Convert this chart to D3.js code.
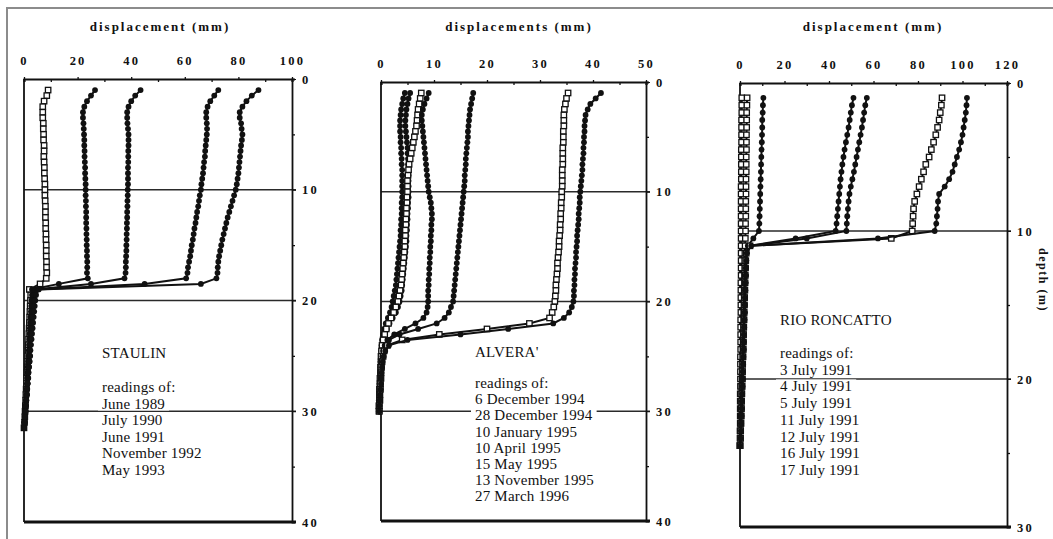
<!DOCTYPE html>
<html>
<head>
<meta charset="utf-8">
<script src="https://cdn.jsdelivr.net/npm/d3@7"></script>
<style>
  body { margin: 0; background: #fff; }
  svg text { font-family: "Liberation Serif", "Times New Roman", serif; fill: #111; }
  .axt { font-weight: bold; font-size: 12.5px; letter-spacing: 2.2px; }
  .leg { font-size: 15px; letter-spacing: 0.2px; }
</style>
</head>
<body>
<svg id="chart" width="1053" height="539"></svg>
<script>
// STAULIN - depth (m) and displacement (mm)
var staulinDepth = [1,1.5,2,2.5,3,3.5,4,4.5,5,5.5,6,6.5,7,7.5,8,8.5,9,9.5,10,10.5,11,11.5,12,12.5,13,13.5,14,14.5,15,15.5,16,16.5,17,17.5,18,18.5,19,19.5,20,20.5,21,21.5,22,22.5,23,23.5,24,24.5,25,25.5,26,26.5,27,27.5,28,28.5,29,29.5,30,30.5,31,31.5];
var staulinDates = ['June 1989', 'July 1990', 'June 1991', 'November 1992', 'May 1993'];
var staulinJun89 = [9,8.5,7.5,7, 7,7,7.2,7.2,7.3,7.3,7.5,7.5,7.4,7.5,7.6,7.6,7.7,7.8, 7.8,7.8,7.9,8,8,8,8.1,8.1,8.2,8.2,8.3,8.3,8.3,8.4,8.4,8.5,8.3,6, 2, 2.5,2.4,2.3,2.2,2.1,2,1.9,1.8,1.7,1.6,1.5,1.4,1.3,1.2,1.1,1,0.9,0.8,0.7,0.6,0.5,0.4,0.3,0.2,0];
var staulinJul90 = [26.5,25,23.5,22.5, 22,22,22.2,22.3,22.4,22.5,22.5,22.6,22.6,22.7,22.8,22.8,22.9,23, 23,23,23.1,23.1,23.2,23.2,23.2,23.3,23.3,23.4,23.4,23.5,23.5,23.6,23.6,23.5,23.8,13, 3, 3,2.8,2.7,2.6,2.4,2.3,2.2,2.1,2,1.9,1.8,1.7,1.5,1.4,1.3,1.2,1.1,1,0.9,0.8,0.6,0.5,0.3,0.2,0];
var staulinJun91 = [43.5,41.5,40,39, 38.5,38.5,38.6,38.8,39,39,39,38.9,38.9,38.9,38.8,38.8,38.8,38.8, 38.7,38.7,38.6,38.6,38.5,38.5,38.4,38.4,38.3,38.3,38.2,38.2,38.1,38,38,37.9,37.5,25, 4, 3.5,3.3,3.1,3,2.8,2.7,2.5,2.4,2.3,2.1,2,1.9,1.8,1.6,1.5,1.4,1.3,1.1,1,0.8,0.7,0.5,0.4,0.2,0];
var staulinNov92 = [72.5,71,69.5,68.5, 68,68,68.2,68.3,68.2,68,67.8,67.6,67.5,67.2,67,66.8,66.5,66.2, 66,65.6,65.3,65,64.6,64.3,64,63.6,63.3,63,62.6,62.3,62,61.6,61.2,61,60.5,45, 5, 4,3.8,3.6,3.4,3.2,3,2.9,2.7,2.5,2.4,2.2,2.1,2,1.8,1.6,1.5,1.3,1.2,1,0.8,0.7,0.5,0.4,0.2,0];
var staulinMay93 = [87.5,85,83,81.5, 80.5,80.5,81,81.2,81.5,81.3,81,80.8,80.6,80.4,80.2,80,79.7,79.4, 79,78.4,77.8,77.2,76.6,76,75.5,75,74.5,74,73.6,73.2,72.8,72.5,72.3,72.2,71.8,66, 5.5, 4.5,4.2,4,3.8,3.6,3.4,3.2,3,2.8,2.6,2.4,2.3,2.1,1.9,1.7,1.6,1.4,1.2,1.1,0.9,0.7,0.6,0.4,0.2,0];

// ALVERA
var alveraDepth = [1,1.5,2,2.5,3,3.5,4,4.5,5,5.5,6,6.5,7,7.5,8,8.5,9,9.5,10,10.5,11,11.5,12,12.5,13,13.5,14,14.5,15,15.5,16,16.5,17,17.5,18,18.5,19,19.5,20,20.5,21,21.5,22,22.5,23,23.5,24,24.5,25,25.5,26,26.5,27,27.5,28,28.5,29,29.5,30];
var alveraDates = ['6 December 1994', '28 December 1994', '10 January 1995', '10 April 1995', '15 May 1995', '13 November 1995', '27 March 1996'];
var alvera6Dec94 = [4.5,4.2,4,3.8, 3.7,3.6,3.6,3.6,3.7,3.7,3.8,3.8,3.9,3.9,4,4,4,4, 4,4,3.9,3.9,3.9,3.8,3.8,3.7,3.7,3.6,3.5,3.4,3.3,3.2,3.1,3,2.9,2.8,2.6,2.4, 2.2,2,1.7,1.3,0.9,0.6,0.4,0.2, 0.1,0,0,-0.1,-0.1,-0.2,-0.2,-0.3,-0.3,-0.3,-0.4,-0.4,-0.4];
var alvera28Dec94 = [5.5,5.2,5,4.8, 4.7,4.6,4.6,4.7,4.8,4.9,5,5,5.1,5.1,5.2,5.2,5.2,5.2, 5.2,5.2,5.1,5.1,5,5,4.9,4.9,4.8,4.8,4.7,4.6,4.5,4.4,4.3,4.2,4.1,4,3.9,3.7, 3.5,3.2,2.8,2.2,1.6,1.1,0.7,0.4, 0.2,0.1,0,0,-0.1,-0.1,-0.2,-0.2,-0.3,-0.3,-0.3,-0.4,-0.4];
var alvera10Jan95 = [7.6,7.4,7.2,7, 6.9,6.8,6.7,6.5,6.3,6.1,5.9,5.7,5.5,5.3,5.2,5.1,5,5, 5,4.9,4.9,4.8,4.8,4.7,4.7,4.6,4.6,4.5,4.5,4.4,4.3,4.2,4.1,4,3.9,3.8,3.6,3.4, 3.2,2.8,2.4,1.9,1.4,1,0.7,0.4, 0.2,0.1,0,0,-0.1,-0.1,-0.2,-0.2,-0.3,-0.3,-0.3,-0.4,-0.4];
var alvera10Apr95 = [9,8.6,8.2,7.9, 7.7,7.7,7.8,7.9,8,8.1,8.2,8.3,8.4,8.5,8.6,8.7,8.8,8.9, 9,9.2,9.4,9.5,9.6,9.6,9.5,9.5,9.4,9.4,9.3,9.3,9.2,9.2,9.1,9.1,9,9,8.9,8.9, 8.9,8.8,8.6,8,6.5,4.5,2.5,1.2, 0.7,0.4,0.3,0.2,0.1,0,0,-0.1,-0.1,-0.2,-0.2,-0.3,-0.3];
var alvera15May95 = [17.4,17.2,17,16.8, 16.7,16.6,16.5,16.4,16.4,16.3,16.2,16.1,16,16,15.9,15.8,15.8,15.7, 15.6,15.5,15.4,15.3,15.2,15.1,15,14.9,14.8,14.7,14.6,14.5,14.4,14.3,14.2,14.1,14,13.9,13.8,13.7, 13.6,13.2,12.8,12,10.5,7,3.5,1.5, 0.8,0.5,0.3,0.2,0.1,0,0,-0.1,-0.1,-0.2,-0.2,-0.3,-0.3];
var alvera13Nov95 = [35.3,35,34.8,34.6, 34.5,34.5,34.5,34.4,34.4,34.4,34.3,34.3,34.3,34.3,34.2,34.2,34.2,34.2, 34.1,34.1,34,34,33.9,33.9,33.8,33.8,33.7,33.6,33.6,33.5,33.4,33.3,33.3,33.2,33.1,33,33,32.9, 32.8,32.6,32.3,31.8,28,20,11,4, 1.2,0.6,0.4,0.2,0.1,0,0,-0.1,-0.1,-0.2,-0.2,-0.3,-0.3];
var alvera27Mar96 = [41.5,40.5,39.5,39, 38.6,38.5,38.4,38.4,38.3,38.3,38.2,38.2,38.1,38,38,37.9,37.8,37.7, 37.6,37.5,37.5,37.4,37.3,37.3,37.2,37.1,37,37,36.9,36.8,36.8,36.7,36.6,36.6,36.5,36.5,36.4,36.4, 36.3,36,35.5,34.5,32.5,24,15,5, 1.5,0.8,0.5,0.3,0.2,0.1,0,0,-0.1,-0.2,-0.2,-0.3,-0.3];

// RIO RONCATTO
var roncattoDepth = [1,1.5,2,2.5,3,3.5,4,4.5,5,5.5,6,6.5,7,7.5,8,8.5,9,9.5,10,10.5,11,11.5,12,12.5,13,13.5,14,14.5,15,15.5,16,16.5,17,17.5,18,18.5,19,19.5,20,20.5,21,21.5,22,22.5,23,23.5,24,24.5];
var roncattoDates = ['3 July 1991', '4 July 1991', '5 July 1991', '11 July 1991', '12 July 1991', '16 July 1991', '17 July 1991'];
var roncatto3Jul = [0.8,0.8,0.8,0.7,0.7,0.7,0.7,0.6,0.6,0.6,0.6,0.6,0.5,0.5,0.5,0.5,0.5,0.5, 0.5,0.5,0.5, 0.5,0.5,0.5,0.5,0.4,0.4,0.4,0.4,0.4,0.3,0.3,0.3,0.3,0.3,0.2,0.2,0.2,0.2,0.2,0.1,0.1,0.1,0.1,0.1,0,0,0];
var roncatto4Jul = [3.2,3.1,3,3,3,2.9,2.9,2.9,2.8,2.8,2.8,2.7,2.7,2.7,2.6,2.6,2.6,2.5, 2.5,2.4,2.3, 2.2,2.1,2.1,2,2,1.9,1.9,1.8,1.7,1.7,1.6,1.5,1.4,1.4,1.3,1.2,1.1,1,0.9,0.8,0.7,0.6,0.5,0.4,0.3,0.2,0];
var roncatto5Jul = [10.5,10.3,10.2,10,10,9.9,9.8,9.7,9.6,9.5,9.4,9.3,9.2,9.1,9,8.9,8.8,8.7, 8.5,6,3.5, 3,2.8,2.7,2.6,2.5,2.4,2.3,2.2,2.1,2,1.9,1.8,1.7,1.6,1.5,1.4,1.3,1.2,1.1,1,0.9,0.8,0.6,0.5,0.3,0.2,0];
var roncatto11Jul = [51,50.3,49.8,49.3,48.8,48.2,47.6,47,46.5,46,45.6,45.2,44.9,44.6,44.3,44,43.7,43.4, 43,25,4, 2.7,2.6,2.5,2.4,2.3,2.2,2.1,2,1.9,1.8,1.7,1.6,1.5,1.4,1.3,1.2,1.1,1,0.9,0.8,0.7,0.6,0.5,0.4,0.3,0.1,0];
var roncatto12Jul = [57,56.3,55.8,55.3,54.8,54.2,53.6,53,52.4,51.8,51.2,50.5,49.8,49.2,48.8,48.5,48.2,48, 47.8,30,4.5, 2.9,2.7,2.6,2.5,2.4,2.3,2.2,2.1,2,1.9,1.8,1.7,1.6,1.5,1.4,1.3,1.2,1.1,1,0.9,0.8,0.7,0.6,0.5,0.3,0.2,0];
var roncatto16Jul = [90.8,90.5,90,89.5,88.8,88,87,86,85,83.5,82.5,81.5,80.5,79.5,78.5,78,77.8,77.6, 77.4,68,4.5, 2.8,2.6,2.5,2.4,2.3,2.2,2.1,2,1.9,1.8,1.7,1.6,1.5,1.4,1.3,1.2,1.1,1,0.9,0.8,0.7,0.6,0.5,0.4,0.3,0.2,0];
var roncatto17Jul = [102,101.8,101.5,101,100.5,100,99.3,98.5,97.5,96.5,95.5,94,92,89.5,89,88.8,88.5,88.2, 87.5,62,5, 3,2.8,2.6,2.5,2.4,2.3,2.2,2.1,2,1.9,1.8,1.7,1.6,1.5,1.4,1.3,1.2,1.1,1,0.9,0.8,0.7,0.6,0.5,0.4,0.2,0];

var svg = d3.select('#chart');

// scan frame
svg.append('path')
  .attr('d', 'M7,539 V8 H1053')
  .attr('fill', 'none')
  .attr('stroke', '#8c8c8c')
  .attr('stroke-width', 2);

function drawPanel(p) {
  var x = d3.scaleLinear().domain([0, p.xMax]).range(p.xRange);
  var y = d3.scaleLinear().domain([0, p.yMax]).range(p.yRange);
  var g = svg.append('g');
  var xEnd = x(p.xMax);

  // horizontal grid lines
  g.selectAll('.grid')
    .data(p.grid)
    .enter().append('line')
    .attr('x1', x(0)).attr('x2', xEnd + 4)
    .attr('y1', d => y(d)).attr('y2', d => y(d))
    .attr('stroke', '#2a2a2a')
    .attr('stroke-width', 1.6);

  // top axis: minor ticks, then labels
  g.append('g')
    .attr('transform', 'translate(0,' + y(0) + ')')
    .call(d3.axisTop(x).tickValues(p.xMinor).tickSize(-3).tickFormat(''))
    .call(a => a.select('.domain').attr('stroke-width', 2.2).attr('stroke', '#111'))
    .call(a => a.selectAll('.tick line').attr('stroke', '#111').attr('stroke-width', 1.3));
  g.append('g')
    .attr('transform', 'translate(0,' + y(0) + ')')
    .call(d3.axisTop(x).tickValues(p.xLabels).tickSize(2).tickPadding(12))
    .call(a => a.select('.domain').remove())
    .call(a => a.selectAll('.tick line').attr('stroke', '#111').attr('stroke-width', 1.3))
    .call(a => a.selectAll('text').attr('class', 'axt').attr('font-family', null).attr('font-size', null));

  // right axis
  g.append('g')
    .attr('transform', 'translate(' + xEnd + ',0)')
    .call(d3.axisRight(y).tickValues(p.yMinor).tickSize(3).tickFormat(''))
    .call(a => a.select('.domain').attr('stroke-width', 1.8).attr('stroke', '#111'))
    .call(a => a.selectAll('.tick line').attr('stroke', '#111').attr('stroke-width', 1.3));
  g.append('g')
    .attr('transform', 'translate(' + xEnd + ',0)')
    .call(d3.axisRight(y).tickValues(p.yLabels).tickSize(4).tickPadding(6))
    .call(a => a.select('.domain').remove())
    .call(a => a.selectAll('.tick line').attr('stroke', '#111'))
    .call(a => a.selectAll('text').attr('class', 'axt').attr('font-family', null).attr('font-size', null));

  // left and bottom frame
  g.append('line')
    .attr('x1', x(0)).attr('x2', x(0))
    .attr('y1', y(0)).attr('y2', y(p.yMax))
    .attr('stroke', '#111').attr('stroke-width', 1.8);
  g.append('line')
    .attr('x1', x(0)).attr('x2', xEnd + 4)
    .attr('y1', y(p.yMax)).attr('y2', y(p.yMax))
    .attr('stroke', '#111').attr('stroke-width', 2.8);

  g.append('text')
    .attr('class', 'axt')
    .attr('x', p.titleX).attr('y', 31)
    .attr('text-anchor', 'middle')
    .style('font-size', '13px')
    .style('letter-spacing', '2px')
    .text(p.title);

  // legend text with white backing to break the grid lines
  var lines = [p.site, ''].concat(['readings of:']).concat(p.dates);
  var leg = g.append('g');
  lines.forEach((t, i) => {
    if (!t) return;
    var yy = i == 0 ? p.legY0 : p.legY1 + (i - 2) * p.legStep;
    var txt = leg.append('text')
      .attr('class', 'leg')
      .attr('x', p.legX).attr('y', yy)
      .text(t);
    var b = txt.node().getBBox();
    leg.insert('rect', 'text')
      .attr('x', b.x - 4).attr('y', b.y + 1)
      .attr('width', b.width + 8).attr('height', b.height - 2)
      .attr('fill', '#fff');
  });

  // profiles
  var line = d3.line()
    .x(d => x(d[1]))
    .y(d => y(d[0]));

  p.series.forEach(s => {
    var pts = p.depth.map((d, i) => [d, s.values[i]]);
    g.append('path')
      .datum(pts)
      .attr('d', line)
      .attr('fill', 'none')
      .attr('stroke', '#111')
      .attr('stroke-width', 2);
    if (s.open) {
      g.selectAll(null)
        .data(pts)
        .enter().append('rect')
        .attr('x', d => x(d[1]) - 2.7)
        .attr('y', d => y(d[0]) - 2.7)
        .attr('width', 5.4).attr('height', 5.4)
        .attr('fill', '#fff')
        .attr('stroke', '#111')
        .attr('stroke-width', 1.3);
    } else {
      g.selectAll(null)
        .data(pts)
        .enter().append('circle')
        .attr('cx', d => x(d[1]))
        .attr('cy', d => y(d[0]))
        .attr('r', 2.9)
        .attr('fill', '#111');
    }
  });
}

drawPanel({
  title: 'displacement  (mm)', titleX: 160,
  xMax: 100, xRange: [24, 292], yMax: 40, yRange: [79, 522],
  xLabels: [0, 20, 40, 60, 80, 100], xMinor: [10, 30, 50, 70, 90],
  yLabels: [0, 10, 20, 30, 40], yMinor: [5, 15, 25, 35],
  grid: [10, 20, 30],
  depth: staulinDepth,
  series: [
    { values: staulinJun89, open: true },
    { values: staulinJul90 },
    { values: staulinJun91 },
    { values: staulinNov92 },
    { values: staulinMay93 }
  ],
  site: 'STAULIN', dates: staulinDates,
  legX: 102, legY0: 358, legY1: 392, legStep: 16.5
});

drawPanel({
  title: 'displacements  (mm)', titleX: 519,
  xMax: 50, xRange: [381, 646], yMax: 40, yRange: [82, 521],
  xLabels: [0, 10, 20, 30, 40, 50], xMinor: [5, 15, 25, 35, 45],
  yLabels: [0, 10, 20, 30, 40], yMinor: [5, 15, 25, 35],
  grid: [10, 20, 30],
  depth: alveraDepth,
  series: [
    { values: alvera6Dec94 },
    { values: alvera28Dec94 },
    { values: alvera10Jan95, open: true },
    { values: alvera10Apr95 },
    { values: alvera15May95 },
    { values: alvera13Nov95, open: true },
    { values: alvera27Mar96 }
  ],
  site: "ALVERA'", dates: alveraDates,
  legX: 475, legY0: 357, legY1: 388, legStep: 16.2
});

drawPanel({
  title: 'displacement  (mm)', titleX: 873,
  xMax: 120, xRange: [740, 1007], yMax: 30, yRange: [83, 527],
  xLabels: [0, 20, 40, 60, 80, 100, 120], xMinor: [10, 30, 50, 70, 90, 110],
  yLabels: [0, 10, 20, 30], yMinor: [5, 15, 25],
  grid: [10, 20],
  depth: roncattoDepth,
  series: [
    { values: roncatto3Jul, open: true },
    { values: roncatto4Jul, open: true },
    { values: roncatto5Jul },
    { values: roncatto11Jul },
    { values: roncatto12Jul },
    { values: roncatto16Jul, open: true },
    { values: roncatto17Jul }
  ],
  site: 'RIO RONCATTO', dates: roncattoDates,
  legX: 780, legY0: 325, legY1: 358, legStep: 16.7
});

// right-hand axis title
svg.append('text')
  .attr('class', 'axt')
  .attr('transform', 'translate(1039,280) rotate(90)')
  .attr('text-anchor', 'middle')
  .style('font-size', '12px')
  .style('letter-spacing', '1.5px')
  .text('depth (m)');
</script>
</body>
</html>
